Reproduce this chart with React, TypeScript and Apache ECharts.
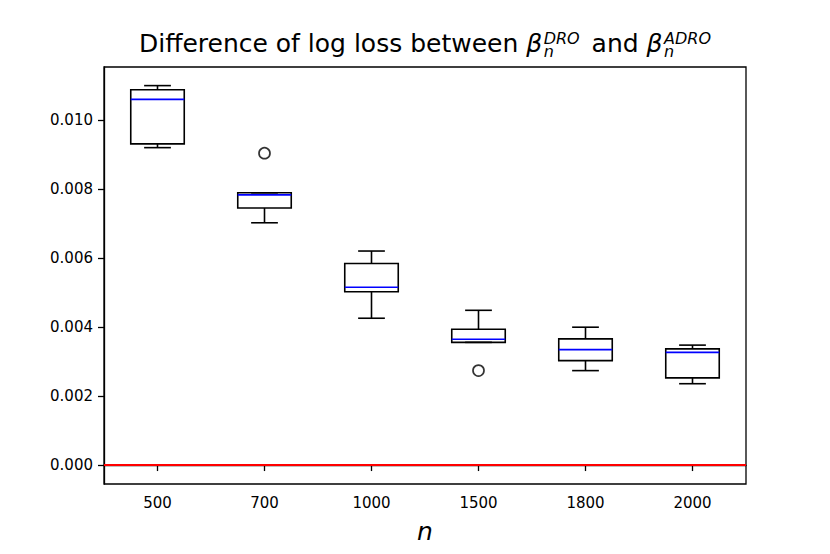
import React, { useEffect, useRef } from "react";
import * as echarts from "echarts";

// ---- data ----
const categories = ["500", "700", "1000", "1500", "1800", "2000"];
const whiskerLow = [0.00921, 0.00703, 0.00426, 0.00356, 0.00274, 0.00236];
const quartile1 = [0.00932, 0.00746, 0.00503, 0.00356, 0.00303, 0.00253];
const medians = [0.01061, 0.00784, 0.00516, 0.00365, 0.00335, 0.00327];
const quartile3 = [0.01089, 0.0079, 0.00585, 0.00394, 0.00366, 0.00337];
const whiskerHigh = [0.01101, 0.0079, 0.00621, 0.00449, 0.004, 0.00348];
const outlierCategory = [1, 3];
const outlierValue = [0.00905, 0.00274];
const yTicks = [0, 0.002, 0.004, 0.006, 0.008, 0.01];
const yMin = -0.00055;
const yMax = 0.01155;
const referenceLine = 0;

const FONT = '"DejaVu Sans", "Liberation Sans", sans-serif';

function measure(text: string, size: number, italic: boolean): number {
  const c = document.createElement("canvas").getContext("2d");
  if (!c) return text.length * size * 0.6;
  c.font = `${italic ? "italic " : ""}${size}px "DejaVu Sans"`;
  return c.measureText(text).width;
}

function buildTitle(centerX: number, baseY: number) {
  const big = 25;
  const small = 16;
  const main1 = "Difference of log loss between ";
  const main2 = " and ";
  const gapAfterBeta = 1.5;
  const gapAfterScript = 4;
  const wMain1 = measure(main1, big, false);
  const wBeta = measure("β", big, true);
  const wSup1 = Math.max(measure("DRO", small, true), measure("n", small, true));
  const wMain2 = measure(main2, big, false);
  const wSup2 = Math.max(measure("ADRO", small, true), measure("n", small, true));
  const total =
    wMain1 + wBeta + gapAfterBeta + wSup1 + gapAfterScript + wMain2 + wBeta + gapAfterBeta + wSup2;
  let x = centerX - total / 2;
  const midBig = baseY - 0.346 * big;
  const supBase = baseY - 8;
  const subBase = baseY + 5.3;
  const scriptLine = subBase - supBase;
  const scriptMid = (supBase + subBase) / 2 - 0.346 * small;
  const els: any[] = [];
  const t = (
    text: string,
    xx: number,
    yy: number,
    size: number,
    italic: boolean,
    lineHeight?: number
  ) => ({
    type: "text",
    x: xx,
    y: yy,
    silent: true,
    style: {
      text,
      fill: "#000",
      fontSize: size,
      fontFamily: FONT,
      fontStyle: italic ? "italic" : "normal",
      textAlign: "left",
      textVerticalAlign: "middle",
      verticalAlign: "middle",
      ...(lineHeight ? { lineHeight } : {}),
    },
  });
  els.push(t(main1, x, midBig, big, false));
  x += wMain1;
  els.push(t("β", x, midBig, big, true));
  x += wBeta + gapAfterBeta;
  els.push(t("DRO\nn", x, scriptMid, small, true, scriptLine));
  x += wSup1 + gapAfterScript;
  els.push(t(main2, x, midBig, big, false));
  x += wMain2;
  els.push(t("β", x, midBig, big, true));
  x += wBeta + gapAfterBeta;
  els.push(t("ADRO\nn", x, scriptMid, small, true, scriptLine));
  return els;
}

export default function App() {
  const ref = useRef<HTMLDivElement>(null);
  useEffect(() => {
    if (!ref.current) return;
    const chart = echarts.init(ref.current, null, { renderer: "svg" });
    const boxData = categories.map((_, i) => [
      i,
      whiskerLow[i],
      quartile1[i],
      medians[i],
      quartile3[i],
      whiskerHigh[i],
    ]);
    const outlierData = outlierCategory.map((c, i) => [c, outlierValue[i]]);
    const gridLeft = 104;
    const gridTop = 67;
    const gridWidth = 642;
    const gridHeight = 417;

    chart.setOption({
      animation: false,
      backgroundColor: "#fff",
      grid: {
        left: gridLeft,
        top: gridTop,
        width: gridWidth,
        height: gridHeight,
        show: true,
        borderColor: "#000",
        borderWidth: 1.3,
        backgroundColor: "transparent",
      },
      graphic: buildTitle(gridLeft + gridWidth / 2, 52),
      xAxis: {
        type: "category",
        data: categories,
        boundaryGap: true,
        axisLine: { show: true, lineStyle: { color: "#000", width: 1.3 } },
        axisTick: { show: true, alignWithLabel: true, length: 6, lineStyle: { color: "#000", width: 1.3 } },
        axisLabel: { color: "#000", fontSize: 15, fontFamily: FONT, margin: 11 },
        splitLine: { show: false },
        name: "n",
        nameLocation: "middle",
        nameGap: 35,
        nameTextStyle: { fontSize: 25, fontStyle: "italic", fontFamily: FONT, color: "#000" },
      },
      yAxis: {
        type: "value",
        min: yMin,
        max: yMax,
        axisLine: { show: true, lineStyle: { color: "#000", width: 1.3 } },
        axisTick: {
          show: true,
          length: 6,
          customValues: yTicks,
          lineStyle: { color: "#000", width: 1.3 },
        },
        axisLabel: {
          color: "#000",
          fontSize: 15,
          fontFamily: FONT,
          margin: 11,
          customValues: yTicks,
          formatter: (v: number) => v.toFixed(3),
        },
        splitLine: { show: false },
      },
      series: [
        {
          type: "custom",
          data: boxData,
          encode: { x: 0, y: [1, 2, 3, 4, 5] },
          renderItem: (params: any, api: any) => {
            const idx = api.value(0);
            const pLow = api.coord([idx, api.value(1)]);
            const pQ1 = api.coord([idx, api.value(2)]);
            const pMed = api.coord([idx, api.value(3)]);
            const pQ3 = api.coord([idx, api.value(4)]);
            const pHigh = api.coord([idx, api.value(5)]);
            const band = api.size([1, 0])[0];
            const boxW = band * 0.5;
            const capW = band * 0.25;
            const cx = pMed[0];
            const stroke = { stroke: "#000", lineWidth: 1.6 };
            return {
              type: "group",
              children: [
                {
                  type: "line",
                  shape: { x1: cx, y1: pQ3[1], x2: cx, y2: pHigh[1] },
                  style: stroke,
                },
                {
                  type: "line",
                  shape: { x1: cx, y1: pQ1[1], x2: cx, y2: pLow[1] },
                  style: stroke,
                },
                {
                  type: "line",
                  shape: { x1: cx - capW / 2, y1: pHigh[1], x2: cx + capW / 2, y2: pHigh[1] },
                  style: stroke,
                },
                {
                  type: "line",
                  shape: { x1: cx - capW / 2, y1: pLow[1], x2: cx + capW / 2, y2: pLow[1] },
                  style: stroke,
                },
                {
                  type: "rect",
                  shape: { x: cx - boxW / 2, y: pQ3[1], width: boxW, height: pQ1[1] - pQ3[1] },
                  style: { fill: "none", stroke: "#000", lineWidth: 1.6 },
                },
                {
                  type: "line",
                  shape: { x1: cx - boxW / 2, y1: pMed[1], x2: cx + boxW / 2, y2: pMed[1] },
                  style: { stroke: "#0000ff", lineWidth: 1.6 },
                },
              ],
            };
          },
        },
        {
          type: "scatter",
          data: outlierData,
          symbol: "circle",
          symbolSize: 11,
          itemStyle: { color: "rgba(0,0,0,0)", borderColor: "#000", borderWidth: 1.7 },
          markLine: {
            silent: true,
            symbol: ["none", "none"],
            label: { show: false },
            lineStyle: { color: "#ff0000", width: 2, type: "solid" },
            data: [{ yAxis: referenceLine }],
          },
        },
      ],
    });
    return () => chart.dispose();
  }, []);
  return (
    <div
      ref={ref}
      style={{ position: "absolute", left: 0, top: 0, width: 830, height: 554 }}
    />
  );
}
